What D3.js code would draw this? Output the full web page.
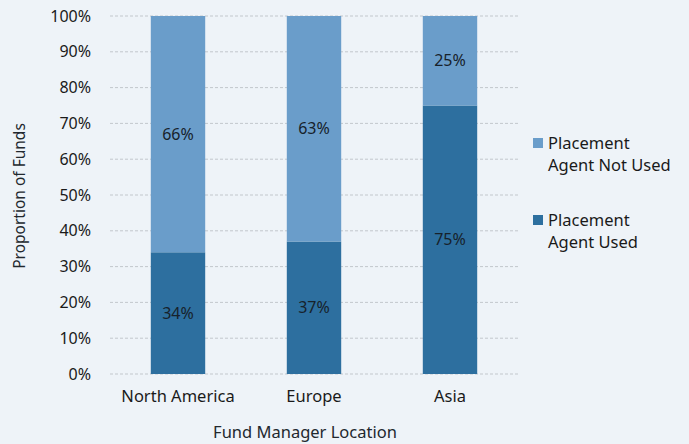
<!DOCTYPE html>
<html>
<head>
<meta charset="utf-8">
<script src="https://cdn.jsdelivr.net/npm/d3@7"></script>
<style>
  body { margin: 0; background: #eef3f8; }
  svg { display: block; font-family: "Noto Sans", sans-serif; }
</style>
</head>
<body>
<svg id="chart" width="689" height="444"></svg>
<script>
// data
var locations = ["North America", "Europe", "Asia"];
var agentUsed = [34, 37, 75];
var agentNotUsed = [66, 63, 25];
var seriesNames = ["Placement Agent Not Used", "Placement Agent Used"];
var yTicks = [0, 10, 20, 30, 40, 50, 60, 70, 80, 90, 100];

var svg = d3.select("#chart");

var colorUsed = "#2d6f9f",
    colorNotUsed = "#6a9dca";

var x = d3.scaleBand()
    .domain(locations)
    .range([110, 518])
    .paddingInner(0.6)
    .paddingOuter(0.3);

var y = d3.scaleLinear()
    .domain([0, 100])
    .range([374, 16]);

// dashed gridlines
svg.append("g")
    .selectAll("line")
    .data(yTicks)
    .enter()
    .append("line")
    .attr("x1", 110)
    .attr("x2", 520)
    .attr("y1", d => y(d))
    .attr("y2", d => y(d))
    .attr("stroke", "#c2c7cc")
    .attr("stroke-width", 1)
    .attr("stroke-dasharray", "3,2");

// y axis labels
var yAxis = svg.append("g")
    .attr("transform", "translate(94,0)")
    .call(d3.axisLeft(y).tickValues(yTicks).tickSize(0).tickFormat(d => d + "%"));
yAxis.select(".domain").remove();
yAxis.selectAll("text")
    .attr("font-size", "16px")
    .attr("font-family", "Noto Sans, sans-serif")
    .attr("fill", "#1a1a1a");

// stacked bars
var rows = locations.map((loc, i) => ({ loc: loc, used: agentUsed[i], notUsed: agentNotUsed[i] }));

var bars = svg.append("g");
bars.selectAll(".used")
    .data(rows)
    .enter()
    .append("rect")
    .attr("x", d => x(d.loc))
    .attr("y", d => y(d.used))
    .attr("width", x.bandwidth())
    .attr("height", d => y(0) - y(d.used))
    .attr("fill", colorUsed);

bars.selectAll(".notUsed")
    .data(rows)
    .enter()
    .append("rect")
    .attr("x", d => x(d.loc))
    .attr("y", d => y(d.used + d.notUsed))
    .attr("width", x.bandwidth())
    .attr("height", d => y(d.used) - y(d.used + d.notUsed))
    .attr("fill", colorNotUsed);

// value labels, centred in each segment
var labels = svg.append("g")
    .attr("font-size", "16px")
    .attr("fill", "#17222b")
    .attr("text-anchor", "middle");
rows.forEach(d => {
    labels.append("text")
        .attr("x", x(d.loc) + x.bandwidth() / 2)
        .attr("y", y(d.used / 2))
        .attr("dy", "0.35em")
        .text(d.used + "%");
    labels.append("text")
        .attr("x", x(d.loc) + x.bandwidth() / 2)
        .attr("y", y(d.used + d.notUsed / 2))
        .attr("dy", "0.35em")
        .text(d.notUsed + "%");
});

// x axis labels
var xAxis = svg.append("g")
    .attr("transform", "translate(0,387)")
    .call(d3.axisBottom(x).tickSize(0));
xAxis.select(".domain").remove();
xAxis.selectAll("text")
    .attr("font-size", "16.5px")
    .attr("font-family", "Noto Sans, sans-serif")
    .attr("fill", "#1a1a1a");

// axis titles
svg.append("text")
    .attr("x", 305)
    .attr("y", 438)
    .attr("text-anchor", "middle")
    .attr("font-size", "16.5px")
    .attr("fill", "#22282e")
    .text("Fund Manager Location");

svg.append("text")
    .attr("transform", "translate(25,196) rotate(-90)")
    .attr("text-anchor", "middle")
    .attr("font-size", "15.5px")
    .attr("fill", "#22282e")
    .text("Proportion of Funds");

// legend
var legendItems = [
    { lines: ["Placement", "Agent Not Used"], color: colorNotUsed, y: 143 },
    { lines: ["Placement", "Agent Used"], color: colorUsed, y: 220 }
];
var legend = svg.append("g");
legendItems.forEach(item => {
    legend.append("rect")
        .attr("x", 533)
        .attr("y", item.y - 5)
        .attr("width", 10)
        .attr("height", 10)
        .attr("fill", item.color);
    item.lines.forEach((line, j) => {
        legend.append("text")
            .attr("x", 548)
            .attr("y", item.y + j * 22)
            .attr("dy", "0.35em")
            .attr("font-size", "16.5px")
            .attr("fill", "#1a1a1a")
            .text(line);
    });
});
</script>
</body>
</html>
